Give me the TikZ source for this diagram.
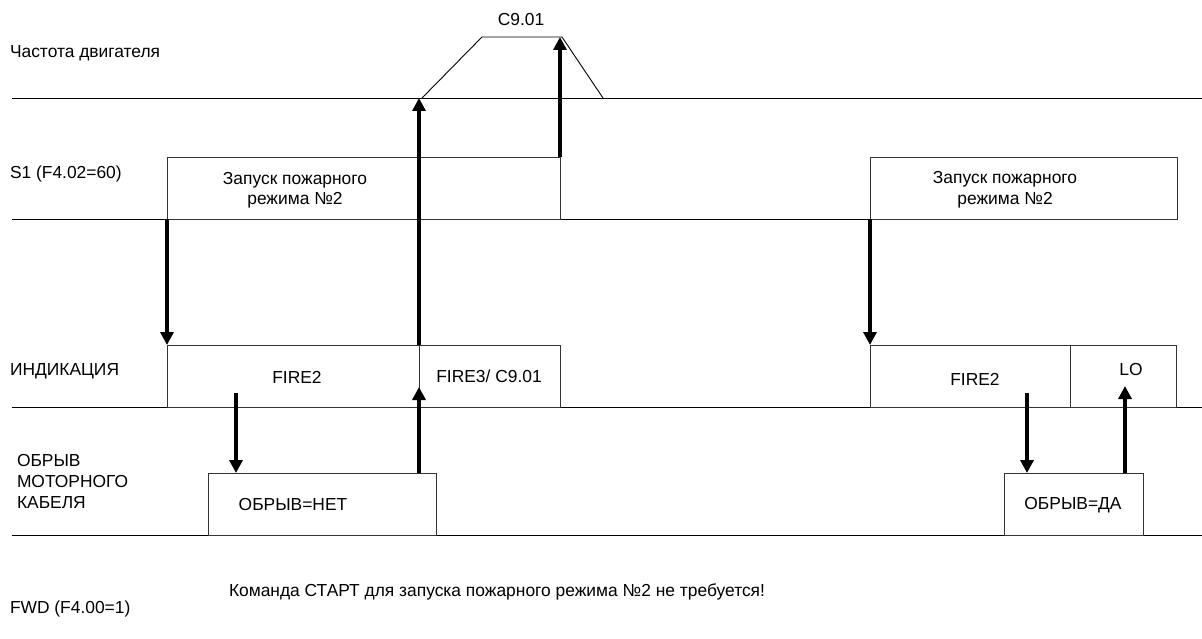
\documentclass[tikz,border=0pt]{standalone}
\usepackage{fontspec}
\setmainfont{Liberation Sans}
\usetikzlibrary{arrows.meta}
\newcommand\dfont{\fontsize{17.4}{21}\selectfont}
\begin{document}
\begin{tikzpicture}[x=1pt,y=-1pt,
  every node/.style={font=\dfont, inner sep=0pt, outer sep=0pt},
  lbl/.style={anchor=base west},
  txt/.style={anchor=base},
  box/.style={draw=black!80, line width=0.9pt, anchor=north west},
  rule/.style={line width=0.9pt},
  ramp/.style={line width=0.9pt},
  sig/.style={line width=3.4pt, -{Triangle[width=13pt,length=13pt]}}]
\useasboundingbox (0,0) rectangle (1202,639);

% row rules
\coordinate (r1a) at (12,98);   \coordinate (r1b) at (1202,98);
\coordinate (r2a) at (12,219);  \coordinate (r2b) at (870,219);
\coordinate (r3a) at (12,407);  \coordinate (r3b) at (1202,407);
\coordinate (r4a) at (12,535);  \coordinate (r4b) at (1202,535);
\draw[rule] (r1a) -- (r1b);
\draw[rule] (r2a) -- (r2b);
\draw[rule] (r3a) -- (r3b);
\draw[rule] (r4a) -- (r4b);

% row labels
\node[lbl] (lf) at (10,58) {Частота двигателя};
\node[lbl] (ls1) at (10,179) {S1 (F4.02=60)};
\node[lbl] (lind) at (10,375) {ИНДИКАЦИЯ};
\node[lbl] (lob1) at (17,466) {ОБРЫВ};
\node[lbl] (lob2) at (17,487) {МОТОРНОГО};
\node[lbl] (lob3) at (17,508) {КАБЕЛЯ};
\node[lbl] (lfwd) at (10,613) {FWD (F4.00=1)};
\node[lbl] (note) at (229,596) {Команда СТАРТ для запуска пожарного режима №2 не требуется!};

% motor frequency ramp
\coordinate (t1) at (422,98);
\coordinate (t2) at (482,37);
\coordinate (t3) at (562,37);
\coordinate (t4) at (603,98);
\draw[ramp] (t1) -- (t2) -- (t3) -- (t4);
\node[txt] (c901) at (521,26) {C9.01};

% S1 boxes
\node[box, minimum width=393pt, minimum height=62pt] (s1a) at (167,157) {};
\node[txt] (s1at1) at (295,185) {Запуск пожарного};
\node[txt] (s1at2) at (295,205) {режима №2};
\node[box, minimum width=307pt, minimum height=62pt] (s1b) at (870,157) {};
\node[txt] (s1bt1) at (1005,184) {Запуск пожарного};
\node[txt] (s1bt2) at (1005,205) {режима №2};

% indication boxes
\node[box, minimum width=252pt, minimum height=62pt] (ind1) at (167,345) {};
\node[box, minimum width=141pt, minimum height=62pt] (ind2) at (419,345) {};
\node[txt] at (297,383) {FIRE2};
\node[txt] at (489,382) {FIRE3/ C9.01};
\node[box, minimum width=200pt, minimum height=62pt] (ind3) at (870,345) {};
\node[box, minimum width=106pt, minimum height=62pt] (ind4) at (1070,345) {};
\node[txt] at (975,385) {FIRE2};
\node[txt] at (1131,375) {LO};

% cable break boxes
\node[box, minimum width=228pt, minimum height=62pt] (ob1) at (208,473) {};
\node[txt] at (293,510) {ОБРЫВ=НЕТ};
\node[box, minimum width=139pt, minimum height=62pt] (ob2) at (1004,473) {};
\node[txt] at (1073,509) {ОБРЫВ=ДА};

% arrow end points
\coordinate (a2e) at (419,98);
\coordinate (a3e) at (560,37);
\coordinate (a4s) at (236,393);
\coordinate (a4e) at (236,473);
\coordinate (a5s) at (419,473);
\coordinate (a5e) at (419,387);
\coordinate (a7s) at (1027,393);
\coordinate (a7e) at (1027,473);
\coordinate (a8s) at (1125,473);
\coordinate (a8e) at (1125,386);

\draw[sig] (s1a.south west) -- (ind1.north west);
\draw[sig] (ind2.north west) -- (a2e);
\draw[sig] (s1a.north east) -- (a3e);
\draw[sig] (a4s) -- (a4e);
\draw[sig] (a5s) -- (a5e);
\draw[sig] (s1b.south west) -- (ind3.north west);
\draw[sig] (a7s) -- (a7e);
\draw[sig] (a8s) -- (a8e);
\end{tikzpicture}
\end{document}
